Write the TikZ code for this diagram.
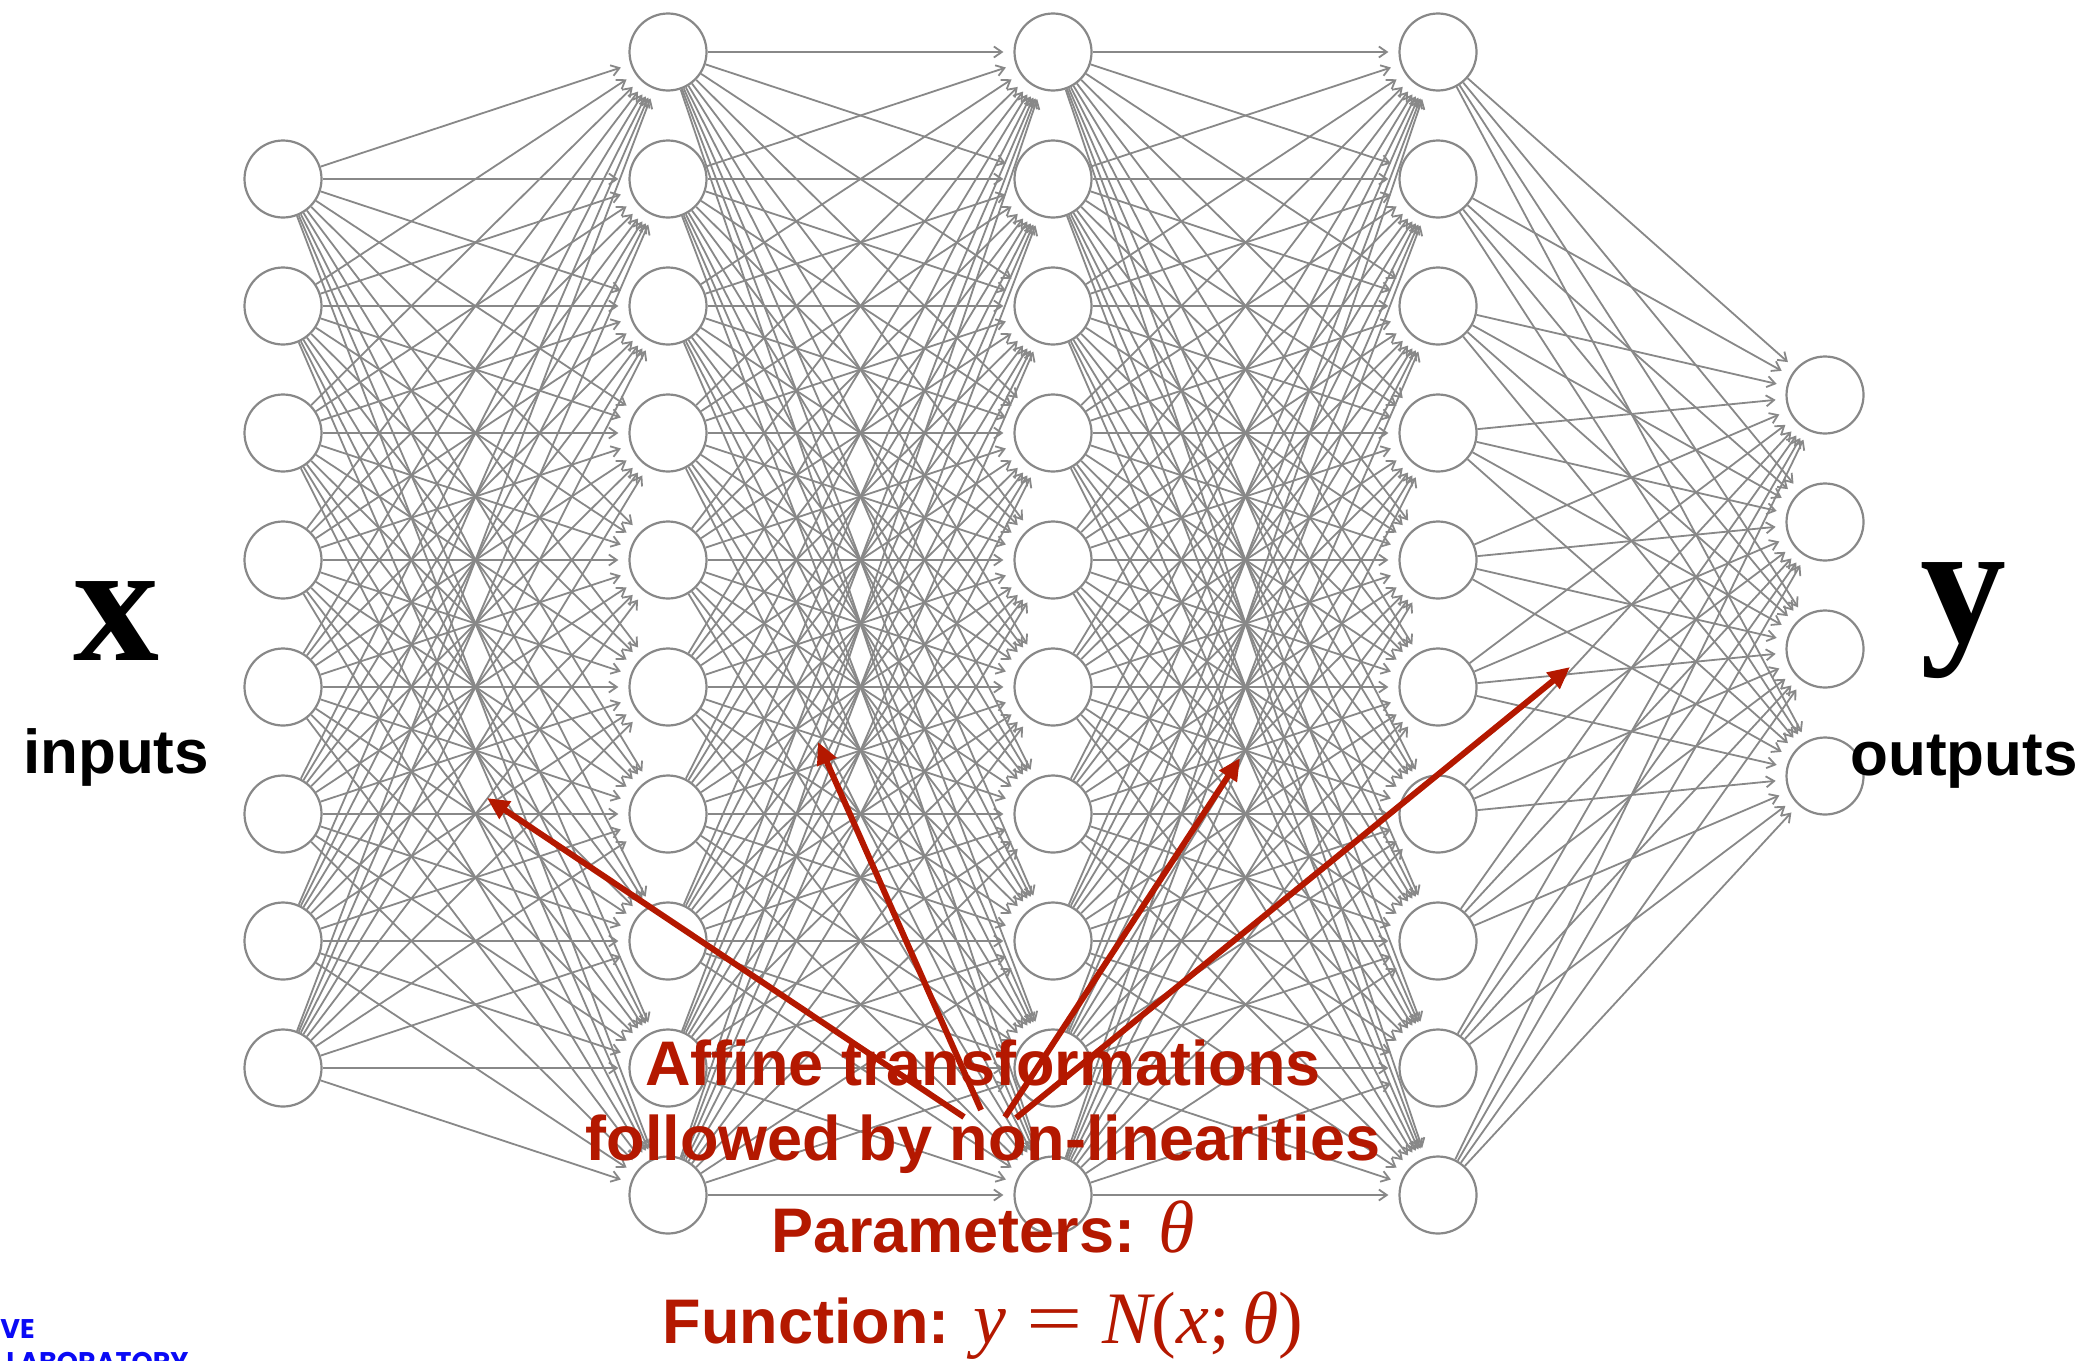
\documentclass[tikz,border=0pt]{standalone}
\usepackage{fontspec}
\setmainfont{Liberation Sans}
\newfontfamily\serifface{Liberation Serif}
\newfontfamily\labface{Poppins}
\usetikzlibrary{arrows.meta}
\definecolor{netgray}{RGB}{136,136,136}
\definecolor{annred}{RGB}{180,24,0}
\definecolor{labblue}{RGB}{10,10,245}
\newcommand{\annup}[1]{{\fontsize{37}{40}\selectfont\serifface\mdseries #1}}
\newcommand{\annit}[1]{{\fontsize{37}{40}\selectfont\serifface\mdseries\itshape #1}}
\begin{document}
\begin{tikzpicture}[x=0.5pt,y=-0.5pt,
  neuron/.style={circle,draw=netgray,fill=white,line width=1.1pt,inner sep=0pt,minimum size=38.5pt},
  conn/.style={draw=netgray,line width=0.9pt,-{Straight Barb[length=4pt,width=5.5pt]},shorten >=5pt},
  ann/.style={draw=annred,line width=3pt,-{Triangle[length=11pt,width=10pt]}},
  redtxt/.style={text=annred,font=\fontsize{31.5}{36}\selectfont\bfseries,anchor=base,inner sep=0pt},
  sidetxt/.style={text=black,font=\fontsize{31}{36}\selectfont\bfseries,anchor=base,inner sep=0pt},
  biglab/.style={text=black,font=\fontsize{86}{90}\selectfont\serifface\bfseries,anchor=base,inner sep=0pt},
  bluetxt/.style={text=labblue,font=\fontsize{13.5}{16}\selectfont\labface\bfseries,anchor=base west,inner sep=0pt}
]
\useasboundingbox[fill=white] (0,0) rectangle (2096,1360);
% neurons
\foreach \k in {0,...,7} \node[neuron] (a\k) at (283,{179+127*\k}) {};
\foreach \k in {0,...,9} \node[neuron] (b\k) at (668,{52+127*\k}) {};
\foreach \k in {0,...,9} \node[neuron] (c\k) at (1053,{52+127*\k}) {};
\foreach \k in {0,...,9} \node[neuron] (d\k) at (1438,{52+127*\k}) {};
\foreach \k in {0,...,3} \node[neuron] (e\k) at (1825,{395+127*\k}) {};
% connections
\foreach \i in {0,...,7} \foreach \j in {0,...,9} \draw[conn] (a\i) -- (b\j);
\foreach \i in {0,...,9} \foreach \j in {0,...,9} \draw[conn] (b\i) -- (c\j);
\foreach \i in {0,...,9} \foreach \j in {0,...,9} \draw[conn] (c\i) -- (d\j);
\foreach \i in {0,...,9} \foreach \j in {0,...,3} \draw[conn] (d\i) -- (e\j);
% side labels
\node[biglab] (xlab) at (116,660) {x};
\node[sidetxt] (inlab) at (116,773) {inputs};
\node[biglab] (ylab) at (1963,641) {y};
\node[sidetxt] (outlab) at (1964,775) {outputs};
% red annotation
\node[redtxt] (t1) at (983,1085) {Affine transformations};
\node[redtxt] (t2) at (983,1160) {followed by non-linearities};
\node[redtxt] (t3) at (983,1252) {Parameters: \annit{θ}};
\node[redtxt] (t4) at (983,1343) {Function: \annit{y}\hspace{0.32em}\annup{\scalebox{1.35}[1]{=}}\hspace{0.32em}\annit{N}\annup{(}\annit{x}\annup{;\,}\annit{θ}\annup{)}};
\coordinate (s1) at (964,1117);
\coordinate (s2) at (981,1110);
\coordinate (s3) at (1005,1117);
\coordinate (s4) at (1016,1118);
\coordinate (e1) at (487,798);
\coordinate (e2) at (818,742);
\coordinate (e3) at (1240,758);
\coordinate (e4) at (1570,667);
\draw[ann] (s1) -- (e1);
\draw[ann] (s2) -- (e2);
\draw[ann] (s3) -- (e3);
\draw[ann] (s4) -- (e4);
% cut-off logo text
\begin{scope}
\clip (0,0) rectangle (2096,1360);
\node[bluetxt] (lg1) at (0,1338) {VE};
\node[bluetxt] (lg2) at (6,1371) {LABORATORY};
\end{scope}
\end{tikzpicture}
\end{document}
